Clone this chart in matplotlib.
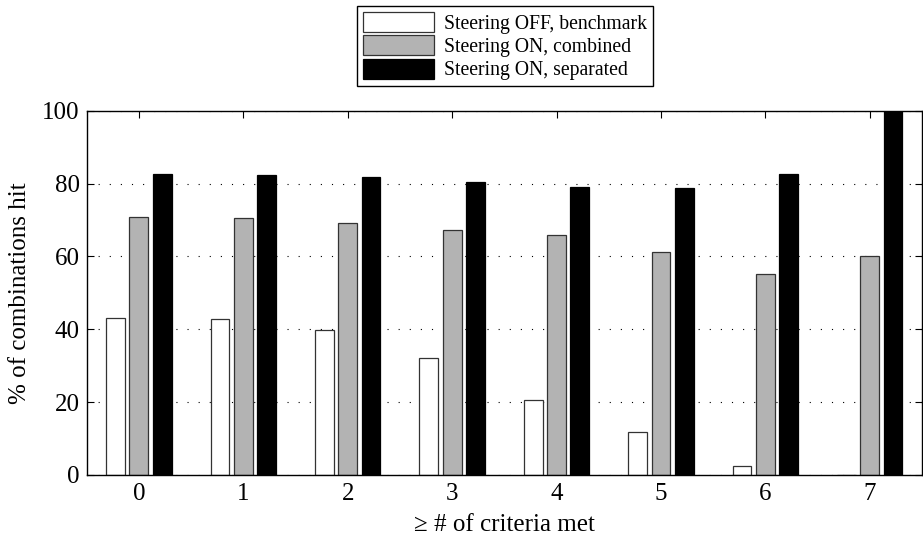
import numpy as np
import matplotlib.pyplot as plt
plt.switch_backend('agg')

plt.rcParams['font.family'] = ['Liberation Serif', 'DejaVu Serif']

criteria = [0, 1, 2, 3, 4, 5, 6, 7]
off_benchmark = [43.1, 42.7, 39.8, 32.2, 20.6, 11.7, 2.6, 0.0]
on_combined = [70.8, 70.6, 69.3, 67.3, 65.8, 61.3, 55.1, 60.1]
on_separated = [82.6, 82.4, 81.9, 80.4, 79.1, 78.7, 82.6, 100.0]
labels = ['Steering OFF, benchmark', 'Steering ON, combined', 'Steering ON, separated']

fig = plt.figure(figsize=(9.23, 5.37), dpi=100)
ax = fig.add_axes([0.0939, 0.1155, 0.905, 0.6784])

x = np.arange(len(criteria))
w = 0.18
off = 0.223
ax.bar(x - off, off_benchmark, w, color='white', edgecolor='#333333', linewidth=0.9, label=labels[0], zorder=2)
ax.bar(x, on_combined, w, color='#b3b3b3', edgecolor='#333333', linewidth=0.9, label=labels[1], zorder=2)
ax.bar(x + off, on_separated, w, color='black', edgecolor='black', linewidth=0.9, label=labels[2], zorder=2)

ax.set_xlim(-0.5, 7.5)
ax.set_ylim(0, 100)
ax.set_xticks(x)
ax.set_xticklabels([str(c) for c in criteria])
ax.set_yticks(np.arange(0, 101, 20))
ax.tick_params(direction='in', length=5, top=True, right=True, labelsize=18, width=0.8)
ax.tick_params(axis='x', pad=6)
ax.tick_params(axis='y', pad=5)
# sparse dotted grid, horizontal only
ax.yaxis.grid(True, linestyle=(0, (1, 9)), color='black', linewidth=0.8, zorder=0)
ax.set_axisbelow(True)
for s in ax.spines.values():
    s.set_linewidth(1.0)

ax.set_xlabel('\u2265 # of criteria met', fontsize=18, labelpad=6)
ax.set_ylabel('% of combinations hit', fontsize=18, labelpad=8)

leg = fig.legend(loc='upper center', bbox_to_anchor=(505 / 923, 1 - 6 / 537), fontsize=14.2,
                 handlelength=3.6, handleheight=1.2, handletextpad=0.5, labelspacing=0.08,
                 fancybox=False, framealpha=1, edgecolor='black', borderpad=0.3, borderaxespad=0)
leg.get_frame().set_linewidth(1.0)

fig.savefig('out.png', dpi=100)
